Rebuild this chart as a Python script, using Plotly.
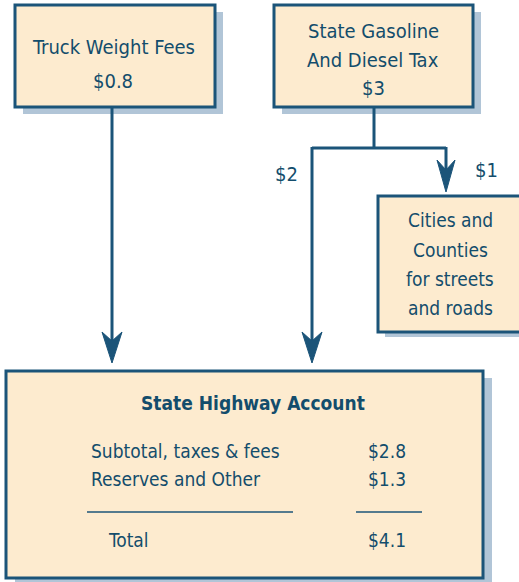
import plotly.graph_objects as go

# ---- data ----
truck_lines = ["Truck Weight Fees", "$0.8"]
gas_lines = ["State Gasoline", "And Diesel Tax", "$3"]
split_labels = ["$2", "$1"]
cities_lines = ["Cities and", "Counties", "for streets", "and roads"]
account_title = "State Highway Account"
account_items = ["Subtotal, taxes & fees", "Reserves and Other"]
account_values = ["$2.8", "$1.3"]
total_label = "Total"
total_value = "$4.1"

W, H = 519, 582
FONT = "DejaVu Sans Condensed, Liberation Sans, Arial, sans-serif"
TXT = "#134d6c"
BORDER = "#1b5479"
FILL = "#fdebcf"
SHADOW = "#b1c5d7"

fig = go.Figure()
shapes = []
ann = []


def box(x0, y0, x1, y1, dx=8, dy=7):
    shapes.append(dict(type="rect", x0=x0 + dx, y0=y0 + dy, x1=x1 + dx, y1=y1 + dy,
                       fillcolor=SHADOW, line=dict(width=0), layer="below"))
    shapes.append(dict(type="rect", x0=x0, y0=y0, x1=x1, y1=y1,
                       fillcolor=FILL, line=dict(color=BORDER, width=3), layer="below"))


def line(x0, y0, x1, y1, w=3):
    shapes.append(dict(type="line", x0=x0, y0=y0, x1=x1, y1=y1,
                       line=dict(color=BORDER, width=w)))


def arrow(x, tip, hw=10, length=31, notch=22):
    path = (f"M {x} {tip} L {x - hw} {tip - length} L {x} {tip - notch} "
            f"L {x + hw} {tip - length} Z")
    shapes.append(dict(type="path", path=path, fillcolor=BORDER, line=dict(color=BORDER, width=1)))


def text(t, x, y, size=20, anchor="center", bold=False):
    ann.append(dict(text=f"<b>{t}</b>" if bold else t, x=x, y=y, xref="x", yref="y",
                    showarrow=False, xanchor=anchor, yanchor="middle",
                    font=dict(family=FONT, size=size, color=TXT)))


# boxes
box(15, 5, 215, 107)
box(274, 5, 473, 107)
box(378, 196, 540, 332, dx=7, dy=5)
box(6, 371, 483, 578, dx=9, dy=7)

# connectors
line(112, 107, 112, 345)
line(374, 107, 374, 148)
line(312, 148, 446, 148)
line(312, 147, 312, 345)
line(446, 147, 446, 175)
arrow(112, 363)
arrow(312, 363)
arrow(446, 192, hw=9, length=32, notch=22)

# texts
for t, y in zip(truck_lines, [47, 81]):
    text(t, 113, y)
for t, y in zip(gas_lines, [31, 60, 88]):
    text(t, 373, y)
text(split_labels[0], 286, 174)
text(split_labels[1], 486, 170)
for t, y in zip(cities_lines, [220, 250, 279, 308]):
    text(t, 450, y, size=19)

text(account_title, 253, 403, size=19, bold=True)
for t, v, y in zip(account_items, account_values, [451, 479]):
    text(t, 89, y, size=19, anchor="left")
    text(v, 387, y, size=19)
line(87, 512, 293, 512, w=1.5)
line(356, 512, 422, 512, w=1.5)
text(total_label, 106, 540, size=19, anchor="left")
text(total_value, 387, 540, size=19)

fig.update_layout(
    width=W, height=H, margin=dict(l=0, r=0, t=0, b=0),
    paper_bgcolor="white", plot_bgcolor="white",
    xaxis=dict(range=[0, W], visible=False, fixedrange=True),
    yaxis=dict(range=[H, 0], visible=False, fixedrange=True),
    shapes=shapes, annotations=ann, showlegend=False,
)
fig.write_html("out.html", config={"displayModeBar": False},
               post_script="document.body.style.margin='0';document.body.style.overflow='hidden';")
